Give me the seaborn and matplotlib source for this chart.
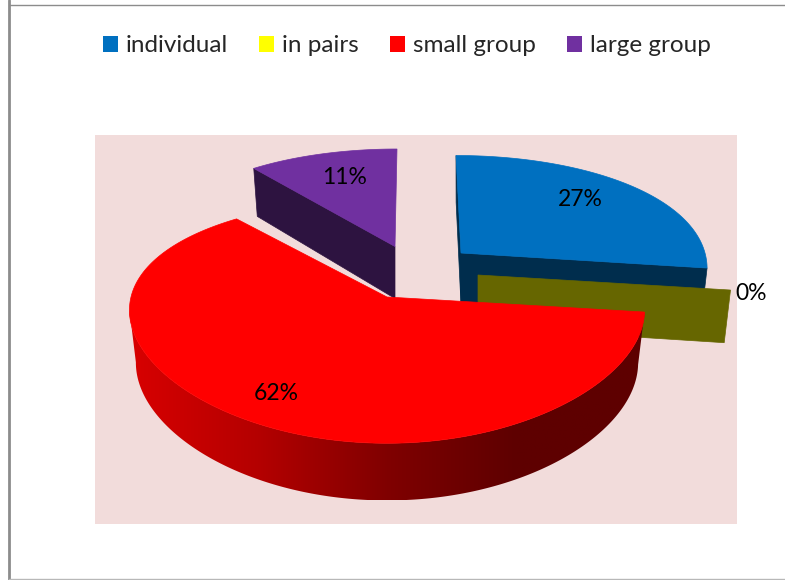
#!/usr/bin/env python3
"""Exploded 3D pie of grouping shares, drawn by hand on a pixel-sized axes."""
import numpy as np
import seaborn as sns
import matplotlib.pyplot as plt
from matplotlib.colors import to_rgb
from matplotlib.patches import Patch, Polygon, Rectangle

categories = ['individual', 'in pairs', 'small group', 'large group']
shares = [27, 0, 62, 11]
labels = ['27%', '0%', '62%', '11%']
top_colors = ['#0070c0', '#ffff00', '#ff0000', '#7030a0']

# layout, one entry per slice: exploded apex in pixels, radius, lean of the top
apex_x = [461, 478, 387, 395]
apex_y = [253, 275, 297, 246.5]
radius = [244, 251, 256, 243]
lean = [-5, 0, 0, 2]
label_xy = [(580, 200), (751, 293), (276, 394), (345, 178)]

PERSP_X = 0.11
PERSP_Y = 0.2
SQUASH = 117
DEPTH = 52
SHRINK = 0.975

sns.set_theme(style='white')
plt.rcParams['font.family'] = ['Lato', 'DejaVu Sans']


def rim(i, theta):
    """Top-face pixel position of a rim point of slice i."""
    s = np.sin(theta)
    x = apex_x[i] + radius[i] * np.cos(theta) / (1 + PERSP_X * s) + lean[i] * s
    return x, apex_y[i] - SQUASH * s / (1 + PERSP_Y * s)


def floor(i, theta):
    """Same rim point, on the bottom face."""
    x, y = rim(i, theta)
    return apex_x[i] + (x - apex_x[i]) * SHRINK, y + DEPTH * (1 - 0.1 * np.sin(theta))


def shade(color, f=0.4):
    return tuple(c * f for c in to_rgb(color))


def radial_wall(ax, i, theta, color):
    x, y = rim(i, theta)
    bx, by = floor(i, theta)
    ax.fill([apex_x[i], x, bx, apex_x[i]], [apex_y[i], y, by, apex_y[i] + DEPTH],
            color=color, lw=0.5)


def top_face(ax, i, t_from, t_to):
    t = np.linspace(t_from, t_to, 200)
    x, y = rim(i, t)
    ax.fill(np.r_[apex_x[i], x], np.r_[apex_y[i], y], color=top_colors[i], lw=0.5)


def outer_wall(ax, i, t_from, t_to, cmap):
    """Front rim wall of slice i, left to right gradient clipped to its outline."""
    t = np.linspace(t_from, t_to, 400)
    xa, ya = rim(i, t)
    # stop at the left silhouette, the rest is hidden and would cross itself
    keep = np.argmin(xa) + 1
    t, xa, ya = t[:keep], xa[:keep], ya[:keep]
    xb, yb = floor(i, t)
    outline = np.c_[np.r_[xa, xb[::-1]], np.r_[ya, yb[::-1]]]
    clip = Polygon(outline, closed=True, transform=ax.transData, fc='none', ec='none')
    ax.add_patch(clip)
    extent = [outline[:, 0].min(), outline[:, 0].max(), outline[:, 1].max(), outline[:, 1].min()]
    im = ax.imshow(np.linspace(0, 1, 256)[None, :], cmap=cmap, extent=extent,
                   aspect='auto', interpolation='bilinear')
    im.set_clip_path(clip)
    im.set_zorder(2)


fig = plt.figure(figsize=(7.85, 5.8), dpi=100)
ax = fig.add_axes([0, 0, 1, 1])
ax.axis('off')

# frame and plot area
ax.plot([8.5, 8.5], [0, 580], color='#8c8c8c', lw=2.0)
ax.plot([9, 785], [5, 5], color='#8c8c8c', lw=1.0)
ax.plot([9, 785], [579, 579], color='#b8b8b8', lw=1.0)
ax.add_patch(Rectangle((95, 135), 642, 389, color='#f2dcdb', lw=0))

# slice angles, clockwise from twelve o'clock
ends = np.cumsum(shares) / np.sum(shares) * 2 * np.pi
starts = np.r_[0, ends[:-1]]
t0 = np.pi / 2 - starts
t1 = np.pi / 2 - ends

# individual
radial_wall(ax, 0, t0[0], shade(top_colors[0]))
radial_wall(ax, 0, t1[0], shade(top_colors[0]))
top_face(ax, 0, t0[0], t1[0])
# large group
radial_wall(ax, 3, t0[3], shade(top_colors[3]))
top_face(ax, 3, t0[3], t1[3])
# in pairs is an empty slice, only its wall shows
radial_wall(ax, 1, t0[1], shade(top_colors[1]))
# small group
wall_cmap = sns.blend_palette(['#d80000', '#b40000', '#800000', '#5e0000', '#5e0000'], as_cmap=True)
outer_wall(ax, 2, t0[2], t1[2], wall_cmap)
t = np.linspace(t0[2], t1[2], 200)
rx, ry = rim(2, t)
ax.fill(np.r_[apex_x[2], rx], np.r_[apex_y[2], ry], color=top_colors[2], lw=0.5, zorder=3)

for (x, y), text in zip(label_xy, labels):
    ax.text(x, y, text, fontsize=16.5, color='black', ha='center', va='center', zorder=4)

handles = [Patch(facecolor=c, edgecolor='none', label=n) for c, n in zip(top_colors, categories)]
ax.legend(handles=handles, ncol=4, loc='center', bbox_to_anchor=(407 / 785, 1 - 46 / 580),
          frameon=False, fontsize=17.5, handlelength=0.62, handleheight=0.62,
          handletextpad=0.33, columnspacing=1.28, borderpad=0, borderaxespad=0)

ax.set_xlim(0, 785)
ax.set_ylim(580, 0)
fig.savefig('out.png', dpi=100)
